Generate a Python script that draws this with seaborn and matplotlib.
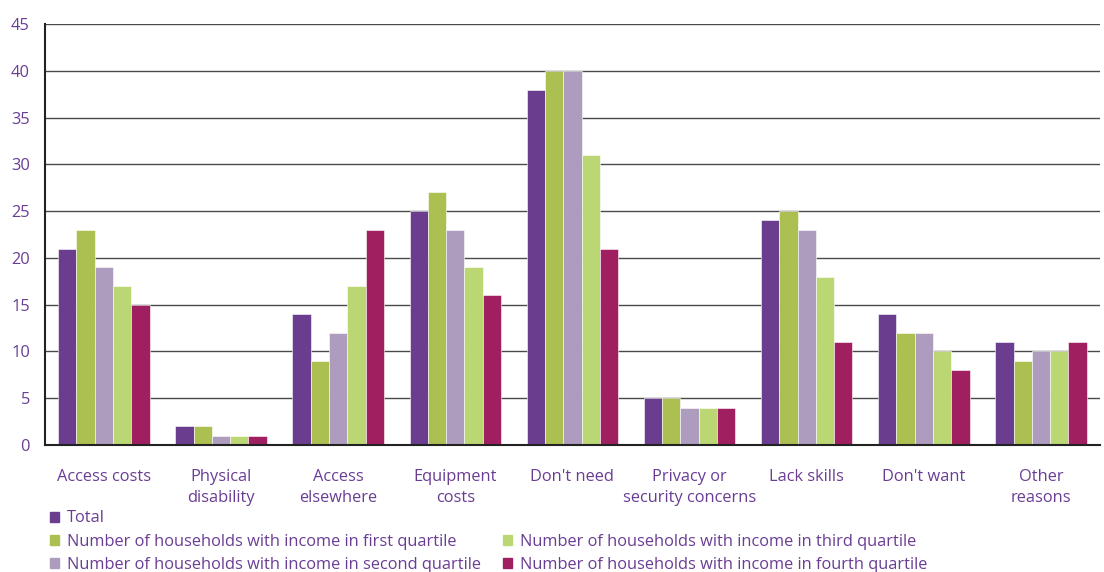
import pandas as pd
import matplotlib.pyplot as plt
import matplotlib.patches as mpatches
import seaborn as sns

categories = ["Access costs", "Physical\ndisability", "Access\nelsewhere", "Equipment\ncosts",
              "Don't need", "Privacy or\nsecurity concerns", "Lack skills", "Don't want", "Other\nreasons"]
series = ["Total",
          "Number of households with income in first quartile",
          "Number of households with income in second quartile",
          "Number of households with income in third quartile",
          "Number of households with income in fourth quartile"]
total = [21, 2, 14, 25, 38, 5, 24, 14, 11]
first_q = [23, 2, 9, 27, 40, 5, 25, 12, 9]
second_q = [19, 1, 12, 23, 40, 4, 23, 12, 10]
third_q = [17, 1, 17, 19, 31, 4, 18, 10, 10]
fourth_q = [15, 1, 23, 16, 21, 4, 11, 8, 11]
colors = ["#6b3d8f", "#abc050", "#ae9cbf", "#bbd773", "#9f1f60"]

rows = []
for name, vals in zip(series, [total, first_q, second_q, third_q, fourth_q]):
    for cat, v in zip(categories, vals):
        rows.append({"reason": cat, "series": name, "value": v})
df = pd.DataFrame(rows)

text_color = "#6a3d94"
sns.set_style("white")
plt.rcParams['font.family'] = ['Open Sans', 'DejaVu Sans']

fig = plt.figure(figsize=(11.04, 5.72), dpi=100)
ax = fig.add_axes([0.041, 0.222, 0.955, 0.736])
sns.barplot(data=df, x="reason", y="value", hue="series", hue_order=series,
            palette=dict(zip(series, colors)), width=0.78, saturation=1,
            edgecolor="white", linewidth=0.4, legend=False, ax=ax)

ax.set_ylim(0, 45)
ax.set_xlim(-0.5, len(categories) - 0.5)
ax.set_yticks(range(0, 46, 5))
ax.yaxis.grid(True, color="#4a4a4a", linewidth=1)
ax.set_axisbelow(True)
ax.set_xlabel("")
ax.set_ylabel("")
for s in ["top", "right"]:
    ax.spines[s].set_visible(False)
for s in ["left", "bottom"]:
    ax.spines[s].set_color("#222222")
    ax.spines[s].set_linewidth(1.5)

ax.tick_params(axis="y", colors="#222222", labelcolor=text_color, labelsize=11.8, length=5, width=1.2,
               direction="out", pad=6)
ax.tick_params(axis="x", which="major", length=0, labelcolor=text_color, labelsize=11.8, pad=17)
ax.set_xticks([i + 0.5 for i in range(-1, len(categories))], minor=True)
ax.tick_params(axis="x", which="minor", length=5, width=1.5, color="#222222", direction="out")
for lbl in ax.get_xticklabels():
    lbl.set_linespacing(1.45)

handles = [mpatches.Patch(color=colors[0], label=series[0]),
           mpatches.Patch(color=colors[1], label=series[1]),
           mpatches.Patch(color=colors[2], label=series[2]),
           mpatches.Patch(color="none", label=""),
           mpatches.Patch(color=colors[3], label=series[3]),
           mpatches.Patch(color=colors[4], label=series[4])]
leg = fig.legend(handles=handles, ncol=2, loc="upper left", bbox_to_anchor=(0.038, 0.122),
                 frameon=False, fontsize=11.8, handlelength=0.55, handleheight=0.55,
                 handletextpad=0.45, columnspacing=1.4, labelspacing=0.45, borderpad=0)
for t in leg.get_texts():
    t.set_color(text_color)

fig.savefig("out.png", dpi=100)
